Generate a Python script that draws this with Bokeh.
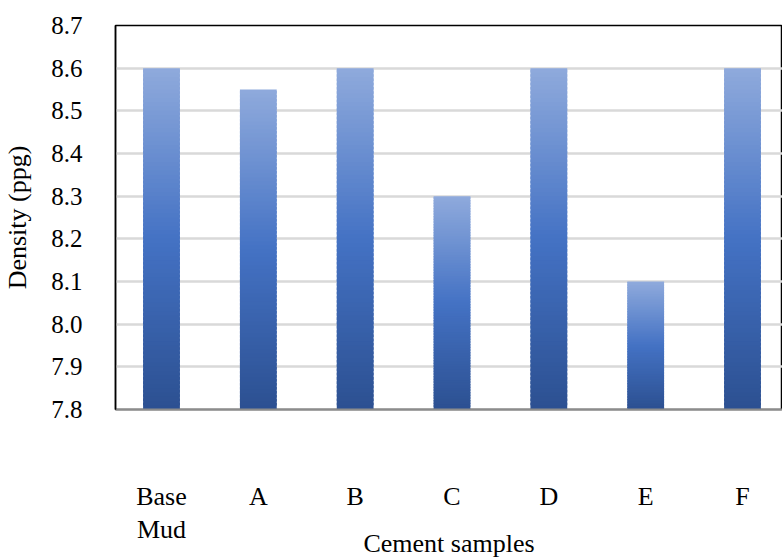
from bokeh.plotting import figure
from bokeh.models import ColumnDataSource, FixedTicker, Range1d
from bokeh.embed import file_html
from bokeh.resources import INLINE

categories = ["Base\nMud", "A", "B", "C", "D", "E", "F"]
density = [8.6, 8.55, 8.6, 8.3, 8.6, 8.1, 8.6]
y_ticks = [7.8, 7.9, 8.0, 8.1, 8.2, 8.3, 8.4, 8.5, 8.6, 8.7]
y_base = 7.8
y_top = 8.7

FONT = "Liberation Serif"

p = figure(width=782, height=560, output_backend="svg", toolbar_location=None,
           x_range=Range1d(-0.475, 6.413), y_range=Range1d(y_base, y_top),
           min_border_left=115, min_border_right=0, min_border_top=25,
           min_border_bottom=149)

# vertical gradient: light blue at the top, mid blue, dark navy at the base
stops = [(0.0, (143, 170, 220)), (0.5, (68, 114, 196)), (1.0, (44, 80, 145))]

def grad(t):
    for (t0, c0), (t1, c1) in zip(stops[:-1], stops[1:]):
        if t <= t1:
            f = (t - t0) / (t1 - t0)
            r, g, b = (int(round(a + (bb - a) * f)) for a, bb in zip(c0, c1))
            return "#%02x%02x%02x" % (r, g, b)
    return "#%02x%02x%02x" % stops[-1][1]

N = 80
half = 0.19
left, right, bottom, top, color = [], [], [], [], []
for i, v in enumerate(density):
    h = v - y_base
    for k in range(N):
        left.append(i - half)
        right.append(i + half)
        bottom.append(y_base + h * k / N)
        top.append(min(v, y_base + h * (k + 1.6) / N))
        color.append(grad(1 - (k + 0.5) / N))

src = ColumnDataSource(dict(left=left, right=right, bottom=bottom, top=top, color=color))
p.quad(left="left", right="right", bottom="bottom", top="top", color="color",
       line_color=None, source=src)

p.xaxis.ticker = FixedTicker(ticks=list(range(len(categories))))
p.xaxis.major_label_overrides = {i: c for i, c in enumerate(categories)}
p.xaxis.major_tick_line_color = None
p.xaxis.minor_tick_line_color = None
p.xaxis.axis_line_color = "#8c8c8c"
p.xaxis.axis_line_width = 2
p.xaxis.major_label_standoff = 66
p.xaxis.major_label_text_font = FONT
p.xaxis.major_label_text_font_size = "26px"
p.xaxis.major_label_text_color = "#000000"
p.xaxis.major_label_text_line_height = 1.15
p.xaxis.axis_label = "Cement samples"
p.xaxis.axis_label_text_font = FONT
p.xaxis.axis_label_text_font_size = "26px"
p.xaxis.axis_label_text_font_style = "normal"
p.xaxis.axis_label_text_color = "#000000"
p.xaxis.axis_label_standoff = -18

p.yaxis.ticker = FixedTicker(ticks=y_ticks)
p.yaxis.major_label_overrides = {t: "%.1f" % t for t in y_ticks}
p.yaxis.major_tick_line_color = None
p.yaxis.minor_tick_line_color = None
p.yaxis.axis_line_color = "#000000"
p.yaxis.axis_line_width = 1.5
p.yaxis.major_label_standoff = 27
p.yaxis.major_label_text_font = FONT
p.yaxis.major_label_text_font_size = "25px"
p.yaxis.major_label_text_color = "#000000"
p.yaxis.axis_label = "Density (ppg)"
p.yaxis.axis_label_text_font = FONT
p.yaxis.axis_label_text_font_size = "26px"
p.yaxis.axis_label_text_font_style = "normal"
p.yaxis.axis_label_text_color = "#000000"
p.yaxis.axis_label_standoff = 16

p.xgrid.grid_line_color = None
p.ygrid.ticker = FixedTicker(ticks=y_ticks[1:-1])
p.ygrid.grid_line_color = "#d9d9d9"
p.ygrid.grid_line_width = 2.5

p.outline_line_color = "#000000"
p.outline_line_width = 1.5
p.background_fill_color = "white"
p.border_fill_color = "white"

open("out.html", "w").write(file_html(p, INLINE))
